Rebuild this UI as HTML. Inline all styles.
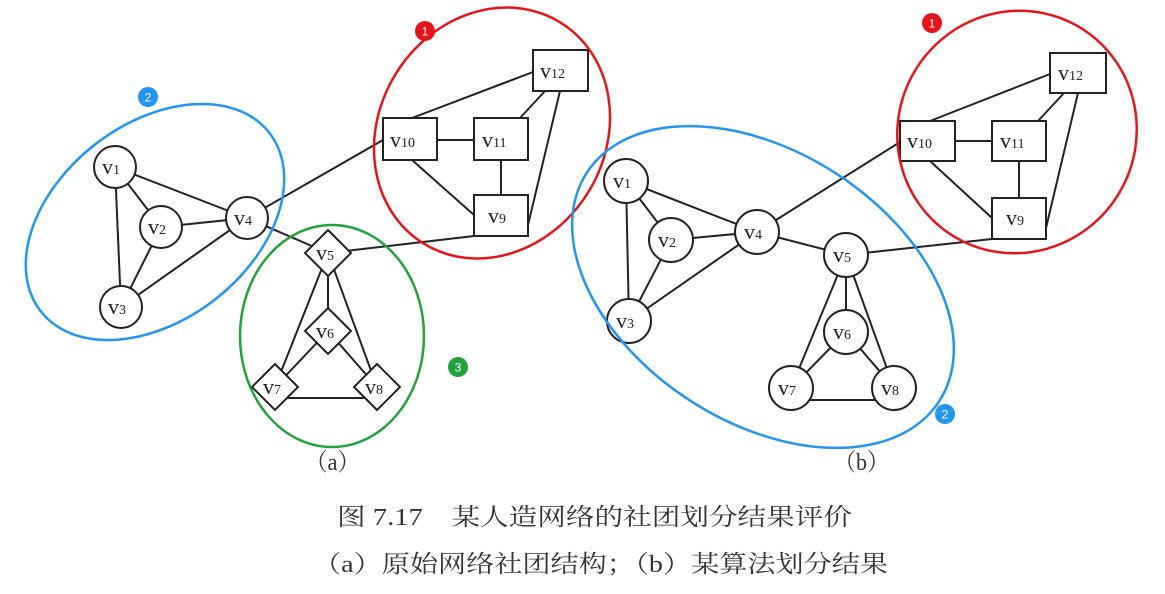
<!DOCTYPE html>
<html><head><meta charset="utf-8"><style>
html,body{margin:0;padding:0;background:#fff;width:1165px;height:594px;overflow:hidden}
svg{display:block}
.e{stroke:#222;stroke-width:2;fill:none}
.n{stroke:#222;stroke-width:2;fill:#fff}
.l{font-family:"Liberation Serif",serif;font-size:22px;fill:#222}
.s{font-size:14px}
.b{font-family:"Liberation Sans",sans-serif;font-size:12px;fill:#fff;text-anchor:middle}
</style></head><body>
<svg width="1165" height="594" viewBox="0 0 1165 594" xmlns="http://www.w3.org/2000/svg">
<g class="e">
<line x1="115" y1="167" x2="161" y2="227"/><line x1="115" y1="167" x2="121" y2="307"/>
<line x1="115" y1="167" x2="247" y2="218"/><line x1="161" y1="227" x2="247" y2="218"/>
<line x1="161" y1="227" x2="121" y2="307"/><line x1="121" y1="307" x2="247" y2="218"/>
<line x1="247" y1="218" x2="383" y2="140"/><line x1="247" y1="218" x2="328" y2="253"/>
<line x1="328" y1="253" x2="474" y2="236"/>
<line x1="328" y1="253" x2="328" y2="331"/><line x1="328" y1="253" x2="275" y2="387"/>
<line x1="328" y1="253" x2="377" y2="387"/><line x1="328" y1="331" x2="275" y2="387"/>
<line x1="328" y1="331" x2="377" y2="387"/><line x1="275" y1="398" x2="377" y2="398"/>
<line x1="410" y1="140" x2="501" y2="140"/><line x1="412" y1="118" x2="533" y2="72"/>
<line x1="412" y1="160" x2="474" y2="215"/><line x1="520" y1="118" x2="545" y2="91"/>
<line x1="501" y1="140" x2="501" y2="200"/><line x1="528" y1="225" x2="560" y2="91"/>
</g>
<g class="n">
<circle cx="115" cy="167" r="21"/><circle cx="161" cy="227" r="21"/>
<circle cx="121" cy="307" r="21"/><circle cx="247" cy="218" r="21"/>
<polygon points="328,230 351,253 328,276 305,253"/>
<polygon points="328,308 351,331 328,354 305,331"/>
<polygon points="275,364 298,387 275,410 252,387"/>
<polygon points="377,364 400,387 377,410 354,387"/>
<rect x="383" y="118" width="54" height="42"/><rect x="474" y="118" width="54" height="42"/>
<rect x="474" y="195" width="54" height="41"/><rect x="533" y="50" width="55" height="41"/>
</g>
<g class="l">
<text x="102" y="174">v<tspan class="s">1</tspan></text><text x="148" y="234">v<tspan class="s">2</tspan></text>
<text x="108" y="314">v<tspan class="s">3</tspan></text><text x="234" y="225">v<tspan class="s">4</tspan></text>
<text x="316" y="260">v<tspan class="s">5</tspan></text><text x="316" y="338">v<tspan class="s">6</tspan></text>
<text x="263" y="394">v<tspan class="s">7</tspan></text><text x="365" y="394">v<tspan class="s">8</tspan></text>
<text x="390" y="147">v<tspan class="s">10</tspan></text><text x="482" y="147">v<tspan class="s">11</tspan></text>
<text x="488" y="223">v<tspan class="s">9</tspan></text><text x="540" y="78">v<tspan class="s">12</tspan></text>
</g>
<g class="e">
<line x1="626" y1="181" x2="671" y2="240"/><line x1="626" y1="181" x2="629" y2="321"/>
<line x1="626" y1="181" x2="757" y2="232"/><line x1="671" y1="240" x2="757" y2="232"/>
<line x1="671" y1="240" x2="629" y2="321"/><line x1="629" y1="321" x2="757" y2="232"/>
<line x1="757" y1="232" x2="900" y2="142"/><line x1="757" y1="232" x2="846" y2="255"/>
<line x1="846" y1="255" x2="992" y2="239"/>
<line x1="846" y1="255" x2="846" y2="332"/><line x1="846" y1="255" x2="791" y2="388"/>
<line x1="846" y1="255" x2="894" y2="388"/><line x1="846" y1="332" x2="791" y2="388"/>
<line x1="846" y1="332" x2="894" y2="388"/><line x1="791" y1="400" x2="894" y2="400"/>
<line x1="927" y1="141" x2="1019" y2="141"/><line x1="930" y1="121" x2="1050" y2="74"/>
<line x1="930" y1="161" x2="992" y2="218"/><line x1="1038" y1="121" x2="1064" y2="93"/>
<line x1="1019" y1="141" x2="1019" y2="200"/><line x1="1046" y1="228" x2="1078" y2="93"/>
</g>
<g class="n">
<circle cx="626" cy="181" r="22"/><circle cx="671" cy="240" r="22"/>
<circle cx="629" cy="321" r="22"/><circle cx="757" cy="232" r="22"/>
<circle cx="846" cy="255" r="22"/><circle cx="846" cy="332" r="22"/>
<circle cx="791" cy="388" r="22"/><circle cx="894" cy="388" r="22"/>
<rect x="900" y="121" width="55" height="40"/><rect x="992" y="121" width="54" height="40"/>
<rect x="992" y="198" width="54" height="41"/><rect x="1050" y="53" width="56" height="40"/>
</g>
<g class="l">
<text x="613" y="188">v<tspan class="s">1</tspan></text><text x="658" y="247">v<tspan class="s">2</tspan></text>
<text x="616" y="328">v<tspan class="s">3</tspan></text><text x="744" y="239">v<tspan class="s">4</tspan></text>
<text x="833" y="262">v<tspan class="s">5</tspan></text><text x="833" y="339">v<tspan class="s">6</tspan></text>
<text x="778" y="395">v<tspan class="s">7</tspan></text><text x="881" y="395">v<tspan class="s">8</tspan></text>
<text x="907" y="148">v<tspan class="s">10</tspan></text><text x="1000" y="148">v<tspan class="s">11</tspan></text>
<text x="1006" y="225">v<tspan class="s">9</tspan></text><text x="1058" y="80">v<tspan class="s">12</tspan></text>
</g>
<g fill="none" stroke-width="2.5">
<ellipse cx="155" cy="222" rx="145" ry="98" transform="rotate(-38 155 222)" stroke="#2196f3"/>
<ellipse cx="492" cy="133" rx="130" ry="113" transform="rotate(-58 492 133)" stroke="#e8141a"/>
<ellipse cx="332" cy="336" rx="92" ry="111" stroke="#22a33a"/>
<ellipse cx="1017" cy="132" rx="122" ry="119" transform="rotate(-60 1017 132)" stroke="#e8141a"/>
<ellipse cx="763" cy="287" rx="210" ry="135" transform="rotate(33 763 287)" stroke="#2196f3"/>
</g>
<circle cx="425" cy="31" r="10" fill="#e8141a"/><text class="b" x="425" y="35.5">1</text>
<circle cx="148" cy="97" r="10" fill="#2196f3"/><text class="b" x="148" y="101.5">2</text>
<circle cx="458" cy="367" r="10" fill="#22a33a"/><text class="b" x="458" y="371.5">3</text>
<circle cx="932" cy="23" r="10" fill="#e8141a"/><text class="b" x="932" y="27.5">1</text>
<circle cx="945" cy="414" r="10" fill="#2196f3"/><text class="b" x="945" y="418.5">2</text>
<g font-family="'Liberation Serif','Noto Serif CJK SC',serif" fill="#333">
<text x="305" y="470" font-size="24" textLength="55" lengthAdjust="spacingAndGlyphs">（a）</text>
<text x="834" y="470" font-size="24" textLength="55" lengthAdjust="spacingAndGlyphs">（b）</text>
<text x="337" y="525" font-size="24" textLength="515" lengthAdjust="spacingAndGlyphs">图 7.17　某人造网络的社团划分结果评价</text>
<text x="313" y="572" font-size="24" textLength="575" lengthAdjust="spacingAndGlyphs">（a）原始网络社团结构；（b）某算法划分结果</text>
</g>
</svg>
</body></html>
